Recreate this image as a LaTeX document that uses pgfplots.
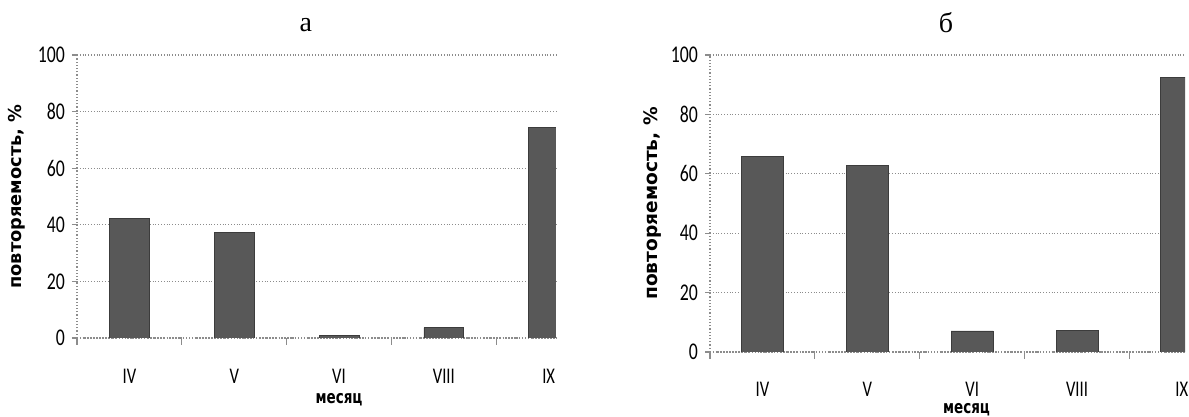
\documentclass[border=0pt]{standalone}
\usepackage{fontspec}
\setmainfont{Liberation Serif}
\newfontfamily\tickfont[FakeStretch=0.74]{Carlito}
\newfontfamily\labfontx[FakeStretch=0.75]{DejaVu Sans}
\newfontfamily\labfonty{DejaVu Sans}
\usepackage{pgfplots}
\usepackage{pgfplotstable}
\pgfplotsset{compat=1.18}

\pgfplotstableread{
x y
0 42.3
1 37.4
2 1.0
3 3.7
4 74.5
}\dataA
\pgfplotstableread{
x y
0 65.7
1 62.8
2 7.1
3 7.4
4 92.3
}\dataB

\definecolor{barfill}{RGB}{88,88,88}
\definecolor{baredge}{RGB}{60,60,60}
\definecolor{gridc}{RGB}{140,140,140}

\pgfplotsset{
  mystyle/.style={
    scale only axis,
    anchor=south west,
    /pgf/number format/assume math mode=true,
    ymin=0, ymax=100, ytick={0,20,...,100},
    xmin=-0.5,
    xtick={0,...,4}, xticklabels={IV,V,VI,VIII,IX},
    minor xtick={-0.5,0.5,1.5,2.5,3.5},
    axis x line=bottom, axis y line=left,
    axis line style={-, gridc, densely dotted, line width=0.6pt},
    ymajorgrids,
    grid style={gridc, densely dotted, line width=0.6pt},
    tick align=outside,
    major tick length=2.5pt,
    minor tick length=3.5pt,
    every major x tick/.style={draw=none},
    every minor x tick/.style={gridc, line width=0.6pt},
    every major y tick/.style={gridc, line width=0.6pt},
    yticklabel style={font=\tickfont\fontsize{12}{12}\selectfont},
    xticklabel style={font=\tickfont\fontsize{11.2}{11.2}\selectfont},
    xlabel={месяц},
    ylabel={повторяемость, \%},
    every axis title/.style={font=\fontsize{14}{14}\selectfont, anchor=center},
  }
}

\begin{document}
\begin{tikzpicture}
\path[use as bounding box] (0,0) rectangle (594.5pt,208.5pt);

\begin{axis}[mystyle,
  at={(38.5pt,39.5pt)},
  width=239.5pt, height=141.5pt,
  xmax=4.07,
  xticklabel style={yshift=-9.6pt},
  every axis x label/.style={at={([yshift=-31pt]axis description cs:0.547,0)}, anchor=center, inner sep=0pt, font=\labfontx\bfseries\fontsize{9}{9}\selectfont},
  every axis y label/.style={at={([xshift=-30pt]axis description cs:0,0.5)}, rotate=90, anchor=center, font=\labfonty\bfseries\fontsize{8.9}{8.9}\selectfont},
  title={а},
  title style={at={([yshift=15pt]axis description cs:0.478,1)}},
]
\addplot[ybar, bar width=0.38, fill=barfill, draw=baredge] table[x=x,y=y] {\dataA};
\end{axis}

\begin{axis}[mystyle,
  at={(355pt,32.5pt)},
  width=237.5pt, height=148.5pt,
  xmax=4.03,
  xticklabel style={yshift=-9pt},
  every axis x label/.style={at={([yshift=-29pt]axis description cs:0.54,0)}, anchor=center, inner sep=0pt, font=\labfontx\bfseries\fontsize{9}{9}\selectfont},
  every axis y label/.style={at={([xshift=-28.5pt]axis description cs:0,0.5)}, rotate=90, anchor=center, font=\labfonty\bfseries\fontsize{9.3}{9.3}\selectfont},
  title={б},
  title style={at={([yshift=16pt]axis description cs:0.497,1)}},
]
\addplot[ybar, bar width=0.40, fill=barfill, draw=baredge] table[x=x,y=y] {\dataB};
\end{axis}
\end{tikzpicture}
\end{document}
